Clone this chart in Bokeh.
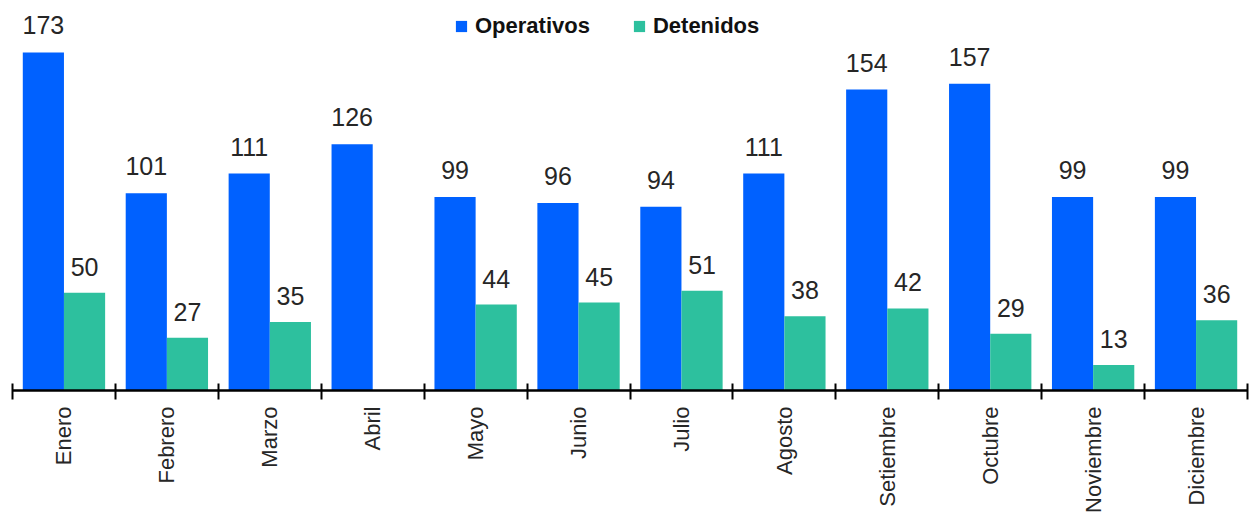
import math
from bokeh.plotting import figure
from bokeh.models import (ColumnDataSource, Range1d, LinearAxis,
                          FixedTicker, Legend, LegendItem)
from bokeh.transform import dodge
from bokeh.core.properties import value
from bokeh.embed import file_html
from bokeh.resources import INLINE

months = ["Enero", "Febrero", "Marzo", "Abril", "Mayo", "Junio", "Julio",
          "Agosto", "Setiembre", "Octubre", "Noviembre", "Diciembre"]
operativos = [173, 101, 111, 126, 99, 96, 94, 111, 154, 157, 99, 99]
detenidos = [50, 27, 35, None, 44, 45, 51, 38, 42, 29, 13, 36]

BLUE = "#0061FF"
TEAL = "#2DC09E"
FONT = "Liberation Sans"

n = len(months)
centers = [i + 0.5 for i in range(n)]
src = ColumnDataSource(dict(
    xc=centers,
    month=months,
    oper=operativos,
    det=[float("nan") if v is None else v for v in detenidos],
    oper_lbl=[str(v) for v in operativos],
    det_lbl=["" if v is None else str(v) for v in detenidos],
    det_y=[0 if v is None else v for v in detenidos],
))

p = figure(width=1250, height=516, x_range=Range1d(0, n), y_range=Range1d(0, 195.5),
           output_backend="svg", toolbar_location=None, x_axis_location=None,
           y_axis_location=None, min_border_left=12, min_border_right=3,
           min_border_top=8, min_border_bottom=126)
p.outline_line_color = None
p.xgrid.visible = False
p.ygrid.visible = False
p.background_fill_color = "white"
p.border_fill_color = "white"

r1 = p.vbar(x=dodge("xc", -0.2), top="oper", width=0.4,
            source=src, fill_color=BLUE, line_color=None)
r2 = p.vbar(x=dodge("xc", 0.2), top="det", width=0.4,
            source=src, fill_color=TEAL, line_color=None)

p.text(x=dodge("xc", -0.2), y="oper", text="oper_lbl", source=src,
       text_align="center", text_baseline="bottom", y_offset=-18,
       text_font=value(FONT), text_font_size="25px", text_color="#262626")
p.text(x=dodge("xc", 0.2), y="det_y", text="det_lbl", source=src,
       text_align="center", text_baseline="bottom", y_offset=-17,
       text_font=value(FONT), text_font_size="25px", text_color="#262626")

xaxis = LinearAxis(ticker=FixedTicker(ticks=centers, minor_ticks=list(range(n + 1))),
                   major_label_overrides={c: m for c, m in zip(centers, months)},
                   axis_line_color="black", axis_line_width=2.5,
                   major_tick_line_color=None, major_tick_in=0, major_tick_out=9,
                   minor_tick_line_color="black", minor_tick_line_width=2,
                   minor_tick_in=7, minor_tick_out=9,
                   major_label_orientation=math.pi / 2,
                   major_label_standoff=7, major_label_text_font=FONT,
                   major_label_text_font_size="22px", major_label_text_color="#262626")
p.add_layout(xaxis, "below")

legend = Legend(items=[LegendItem(label="Operativos", renderers=[r1]),
                       LegendItem(label="Detenidos", renderers=[r2])],
                orientation="horizontal", location=(442, 351),
                label_text_font=FONT, label_text_font_style="bold",
                label_text_font_size="22px", label_text_color="#111111",
                glyph_width=14, glyph_height=14, label_standoff=7, spacing=42,
                padding=0, margin=0, border_line_color=None, background_fill_alpha=0)
p.add_layout(legend, "center")

open("out.html", "w").write(file_html(p, INLINE))
